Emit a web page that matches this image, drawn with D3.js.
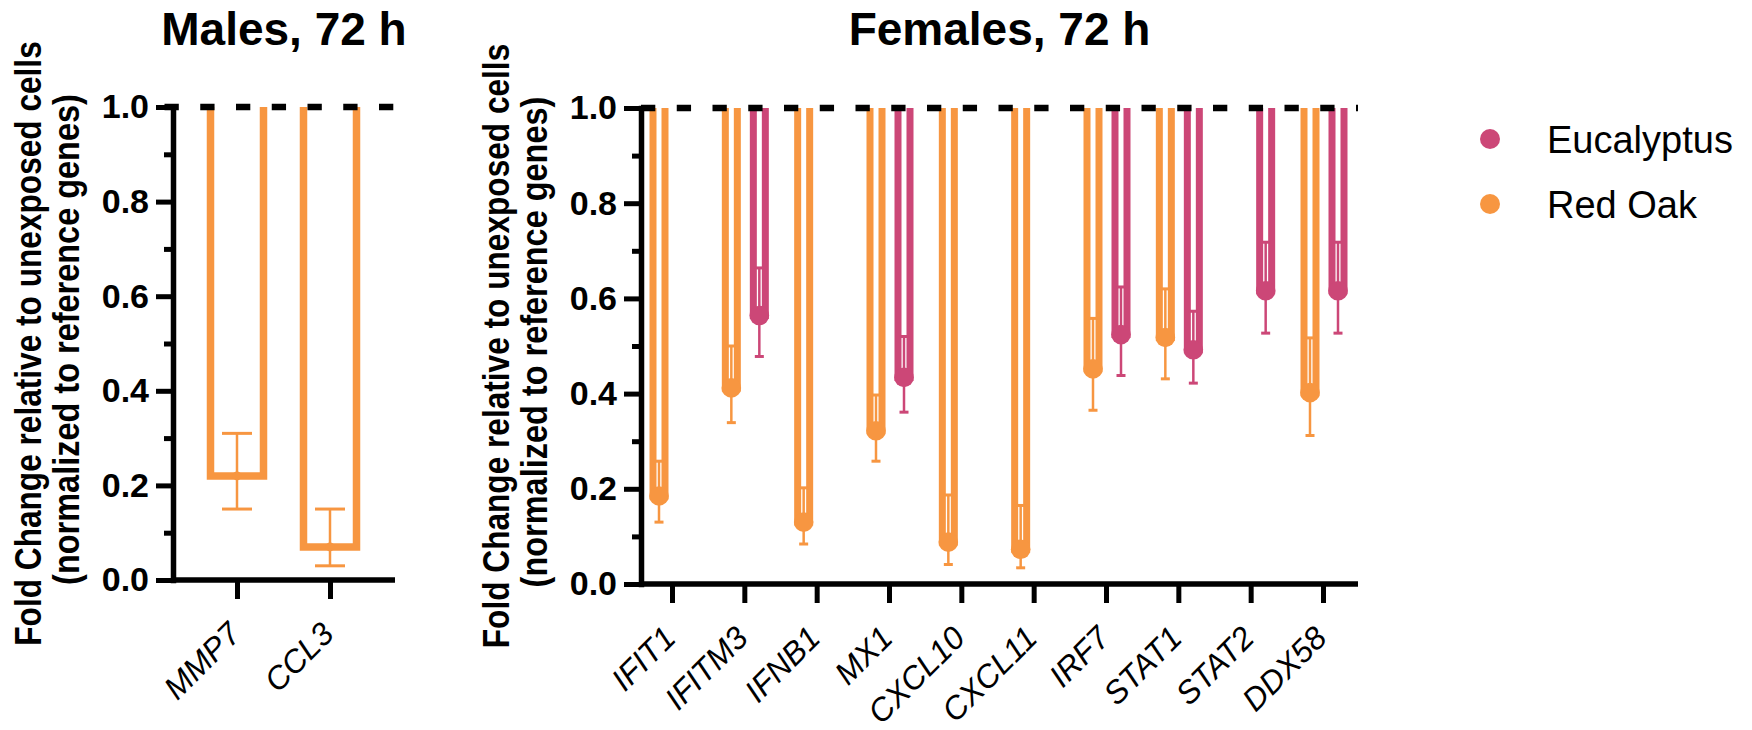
<!DOCTYPE html>
<html>
<head>
<meta charset="utf-8">
<script src="https://cdn.jsdelivr.net/npm/d3@7"></script>
<style>
  body { margin: 0; background: #fff; }
  text { font-family: "Liberation Sans", Arial, Helvetica, sans-serif; }
</style>
</head>
<body>
<script type="text/javascript">

// Males panel data (Red Oak only)
var maleGenes = ["MMP7", "CCL3"];
var maleRedOak = [0.22, 0.07];
var maleRedOakLow = [0.15, 0.03];
var maleRedOakHigh = [0.31, 0.15];

// Females panel data (null = not shown)
var femaleGenes = ["IFIT1", "IFITM3", "IFNB1", "MX1", "CXCL10", "CXCL11", "IRF7", "STAT1", "STAT2", "DDX58"];
var femaleRedOak = [0.185, 0.412, 0.13, 0.322, 0.088, 0.073, 0.452, 0.518, null, 0.402];
var femaleRedOakLow = [0.13, 0.339, 0.084, 0.258, 0.041, 0.034, 0.365, 0.431, null, 0.312];
var femaleRedOakHigh = [0.258, 0.50, 0.202, 0.397, 0.187, 0.165, 0.558, 0.62, null, 0.517];
var femaleEuc = [null, 0.564, null, 0.434, null, null, 0.524, 0.492, 0.616, 0.616];
var femaleEucLow = [null, 0.478, null, 0.361, null, null, 0.438, 0.422, 0.527, 0.527];
var femaleEucHigh = [null, 0.664, null, 0.52, null, null, 0.624, 0.573, 0.718, 0.718];

var yMajorTicks = [0, 0.2, 0.4, 0.6, 0.8, 1.0];
var yMinorTicks = [0.1, 0.3, 0.5, 0.7, 0.9];
var seriesNames = ["Eucalyptus", "Red Oak"];
var seriesColors = { "Eucalyptus": "#cc4777", "Red Oak": "#f79641" };

var svg = d3.select("body").append("svg").attr("width", 1752).attr("height", 730);

function drawPanel(p) {
  var g = svg.append("g");
  var y = d3.scaleLinear().domain([0, 1]).range([p.yBottom, p.yTop]);
  var x = d3.scalePoint().domain(p.genes).range(p.tickRange);

  //title
  g.append("text").text(p.title)
    .attr("x", (p.axisX + p.axisEnd) / 2).attr("y", 45)
    .attr("text-anchor", "middle").attr("font-size", "46px").attr("font-weight", "bold");

  //y axis title, two lines, narrow bold look
  var mid = (p.yTop + p.yBottom) / 2;
  g.append("text").text("Fold Change relative to unexposed cells")
    .attr("transform", "translate(" + (p.axisX - 132) + "," + mid + ") rotate(-90) scale(0.855,1)")
    .attr("text-anchor", "middle").attr("font-size", "37px").attr("font-weight", "bold");
  g.append("text").text("(normalized to reference genes)")
    .attr("transform", "translate(" + (p.axisX - 94) + "," + (mid - 4) + ") rotate(-90) scale(0.878,1)")
    .attr("text-anchor", "middle").attr("font-size", "37px").attr("font-weight", "bold");

  //bars hanging from 1.0 down to the value
  p.series.forEach(function(s) {
    var off = p.offset(s.name);
    var col = seriesColors[s.name];
    var rows = p.genes.map(function(gname, i) {
      return { gene: gname, v: s.values[i], lo: s.low[i], hi: s.high[i] };
    }).filter(function(d) { return d.v != null; });

    g.selectAll(null).data(rows).enter().append("path")
      .attr("d", function(d) {
        var cx = x(d.gene) + off;
        return "M" + (cx - p.barHalf) + "," + y(1) + "V" + y(d.v) + "H" + (cx + p.barHalf) + "V" + y(1);
      })
      .attr("fill", "none").attr("stroke", col).attr("stroke-width", p.barStroke);

    //error bars
    g.selectAll(null).data(rows).enter().append("line")
      .attr("x1", function(d) { return x(d.gene) + off; })
      .attr("x2", function(d) { return x(d.gene) + off; })
      .attr("y1", function(d) { return y(d.lo); })
      .attr("y2", function(d) { return y(d.hi); })
      .attr("stroke", col).attr("stroke-width", 2.5);
    ["lo", "hi"].forEach(function(k) {
      g.selectAll(null).data(rows).enter().append("line")
        .attr("x1", function(d) { return x(d.gene) + off - p.capHalf; })
        .attr("x2", function(d) { return x(d.gene) + off + p.capHalf; })
        .attr("y1", function(d) { return y(d[k]); })
        .attr("y2", function(d) { return y(d[k]); })
        .attr("stroke", col).attr("stroke-width", 3);
    });

    //mean markers
    g.selectAll(null).data(rows).enter().append("circle")
      .attr("cx", function(d) { return x(d.gene) + off; })
      .attr("cy", function(d) { return y(d.v); })
      .attr("r", p.markerR).attr("fill", col);
  });

  //y axis
  var yAxis = g.append("g").attr("transform", "translate(" + p.axisX + ",0)")
    .call(d3.axisLeft(y).tickValues(yMajorTicks).tickFormat(d3.format(".1f")).tickSize(17).tickSizeOuter(0).tickPadding(7));
  yAxis.select(".domain").attr("stroke-width", 5.5).attr("stroke-linecap", "square");
  yAxis.selectAll(".tick line").attr("stroke-width", 5);
  yAxis.selectAll(".tick text").attr("font-size", "34px").attr("font-weight", "bold")
    .attr("font-family", "'Liberation Sans', Arial, sans-serif").attr("fill", "#000");
  var yMinor = g.append("g").attr("transform", "translate(" + p.axisX + ",0)")
    .call(d3.axisLeft(y).tickValues(yMinorTicks).tickFormat("").tickSize(9).tickSizeOuter(0));
  yMinor.select(".domain").remove();
  yMinor.selectAll(".tick line").attr("stroke-width", 5);

  //x axis
  g.append("line").attr("x1", p.axisX - 2).attr("x2", p.axisEnd)
    .attr("y1", y(0)).attr("y2", y(0)).attr("stroke", "#000").attr("stroke-width", 5.5);
  var xAxis = g.append("g").attr("transform", "translate(0," + y(0) + ")")
    .call(d3.axisBottom(x).tickSize(19).tickSizeOuter(0));
  xAxis.select(".domain").remove();
  xAxis.selectAll(".tick line").attr("stroke-width", 5);
  xAxis.selectAll(".tick text")
    .attr("x", 5).attr("y", 56).attr("dy", 0)
    .attr("text-anchor", "end").attr("transform", "rotate(-45,5,56)")
    .attr("font-size", "32px").attr("font-style", "italic")
    .attr("font-family", "'Liberation Sans', Arial, sans-serif").attr("fill", "#000");

  //dashed reference line at 1.0
  g.append("line").attr("x1", p.dashStart).attr("x2", p.axisEnd)
    .attr("y1", y(1)).attr("y2", y(1))
    .attr("stroke", "#000").attr("stroke-width", 6.5).attr("stroke-dasharray", "14.3,21.45");
}

drawPanel({
  title: "Males, 72 h",
  genes: maleGenes,
  axisX: 173, axisEnd: 395, yTop: 107, yBottom: 580, tickRange: [237, 330],
  dashStart: 164.5,
  barHalf: 26.5, barStroke: 7.5, capHalf: 15, markerR: 4.5,
  offset: function() { return 0; },
  series: [{ name: "Red Oak", values: maleRedOak, low: maleRedOakLow, high: maleRedOakHigh }]
});

var sub = d3.scaleBand().domain(["Red Oak", "Eucalyptus"]).range([-27, 29]);
drawPanel({
  title: "Females, 72 h",
  genes: femaleGenes,
  axisX: 641, axisEnd: 1358, yTop: 108, yBottom: 584, tickRange: [672, 1323],
  dashStart: 641,
  barHalf: 6, barStroke: 7, capHalf: 4.5, markerR: 9.8,
  offset: function(n) { return sub(n) + sub.bandwidth() / 2; },
  series: [
    { name: "Red Oak", values: femaleRedOak, low: femaleRedOakLow, high: femaleRedOakHigh },
    { name: "Eucalyptus", values: femaleEuc, low: femaleEucLow, high: femaleEucHigh }
  ]
});

//legend
var legend = svg.append("g").attr("transform", "translate(1490,139)");
var items = legend.selectAll("g").data(seriesNames).enter().append("g")
  .attr("transform", function(d, i) { return "translate(0," + i * 65 + ")"; });
items.append("circle").attr("r", 10).attr("fill", function(d) { return seriesColors[d]; });
items.append("text").text(function(d) { return d; })
  .attr("x", 57).attr("y", 14).attr("font-size", "38px");

</script>
</body>
</html>
